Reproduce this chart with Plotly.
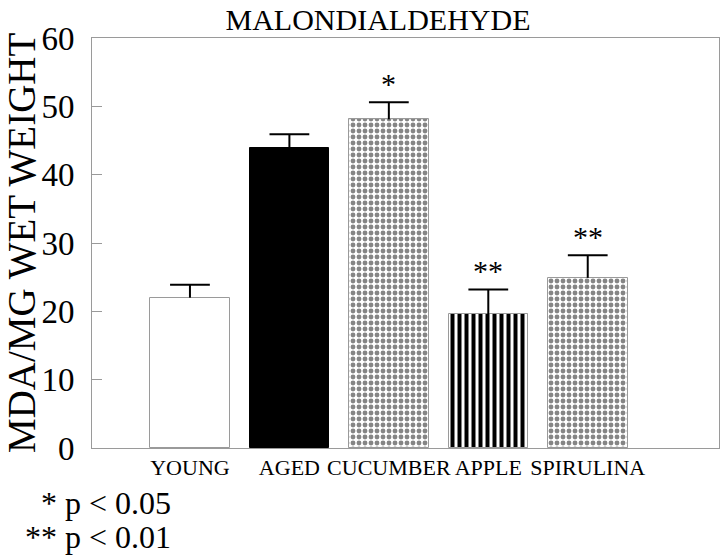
import plotly.graph_objects as go

# ---- data ----
categories = ["YOUNG", "AGED", "CUCUMBER", "APPLE", "SPIRULINA"]
mda_values = [22.0, 43.9, 48.1, 19.6, 24.9]
mda_errors = [1.9, 2.0, 2.5, 3.6, 3.3]
significance = ["", "", "*", "**", "**"]
y_ticks = [0, 10, 20, 30, 40, 50, 60]
footnotes = ["* p < 0.05", "** p < 0.01"]

W, H = 720, 555
L, R, T, B = 92, 1, 38, 107
PW, PH = W - L - R, H - T - B
FONT = "Liberation Serif, Times New Roman, serif"
FRAME = "#9a9a9a"

def px_x(p):
    return (p - L) / PW

def px_y(p):
    return (H - B - p) / PH

xs = list(range(len(categories)))

checker = dict(shape=".", fgcolor="#858585", fgopacity=1, bgcolor="white", size=6, solidity=0.52,
               fillmode="overlay")
fills = [
    dict(color="white", line=dict(color=FRAME, width=1)),
    dict(color="black", line=dict(color="black", width=1)),
    dict(color="white", line=dict(color=FRAME, width=1), pattern=checker),
    dict(color="white", line=dict(color=FRAME, width=1),
         pattern=dict(shape="|", fgcolor="black", fgopacity=1, bgcolor="white", size=7, solidity=0.57,
                      fillmode="overlay")),
    dict(color="white", line=dict(color=FRAME, width=1), pattern=checker),
]

fig = go.Figure()
for i, (c, v) in enumerate(zip(categories, mda_values)):
    fig.add_trace(go.Bar(x=[xs[i]], y=[v], width=0.8, marker=fills[i], showlegend=False))

# error bars (upper only) drawn as lines
ex, ey = [], []
cap = 0.2
for i, (v, e) in enumerate(zip(mda_values, mda_errors)):
    ex += [xs[i], xs[i], None, xs[i] - cap, xs[i] + cap, None]
    ey += [v, v + e, None, v + e, v + e, None]
fig.add_trace(go.Scatter(x=ex, y=ey, mode="lines", line=dict(color="black", width=2),
                         showlegend=False, hoverinfo="skip"))

annotations = []
for i, (v, e, s) in enumerate(zip(mda_values, mda_errors, significance)):
    if s:
        annotations.append(dict(x=xs[i], y=v + e, xref="x", yref="y", text=s, showarrow=False,
                                yanchor="bottom", yshift=0, font=dict(family=FONT, size=30, color="black")))

annotations.append(dict(x=px_x(21), y=px_y(243), xref="paper", yref="paper", text="MDA/MG WET WEIGHT",
                        textangle=-90, showarrow=False, xanchor="center", yanchor="middle",
                        font=dict(family=FONT, size=39, color="black")))
for k, (txt, yc) in enumerate(zip(footnotes, [503, 537])):
    annotations.append(dict(x=px_x(173), y=px_y(yc), xref="paper", yref="paper", text=txt,
                            showarrow=False, xanchor="right", yanchor="middle",
                            font=dict(family=FONT, size=32, color="black")))

fig.update_layout(
    width=W, height=H,
    margin=dict(l=L, r=R, t=T, b=B, pad=0),
    paper_bgcolor="white", plot_bgcolor="white",
    bargap=0,
    title=dict(text="MALONDIALDEHYDE", x=378 / W, y=1 - 19 / H, xanchor="center", yanchor="middle",
               font=dict(family=FONT, size=30, color="black")),
    xaxis=dict(range=[-0.985, 5.32], tickvals=xs, ticktext=categories, showgrid=False, zeroline=False,
               showline=True, linecolor=FRAME, linewidth=1, mirror=True, ticks="", tickangle=0,
               tickfont=dict(family=FONT, size=22, color="black")),
    yaxis=dict(range=[0, 60], tickvals=y_ticks, showgrid=False, zeroline=False,
               showline=True, linecolor=FRAME, linewidth=1, mirror=True,
               ticks="inside", ticklen=10, tickcolor=FRAME, tickwidth=1, ticklabelstandoff=10,
               tickfont=dict(family=FONT, size=33, color="black")),
    annotations=annotations,
)

fig.write_html("out.html", config={"displayModeBar": False},
               post_script="document.body.style.margin='0';document.body.style.overflow='hidden';")
